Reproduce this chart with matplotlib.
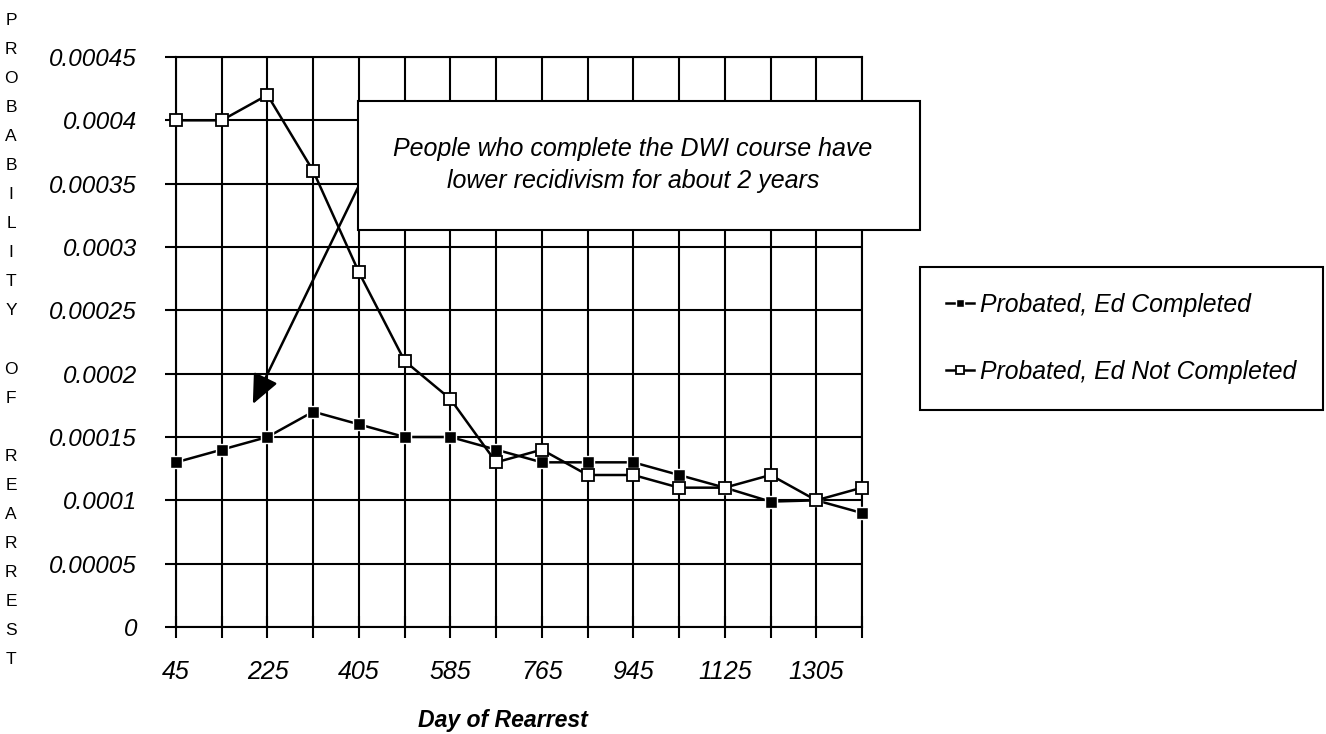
import matplotlib
matplotlib.use("Agg")
import matplotlib.pyplot as plt
from matplotlib.patches import Rectangle

plt.rcParams['font.family'] = ['Liberation Sans', 'DejaVu Sans']

days = [45, 135, 225, 315, 405, 495, 585, 675, 765, 855, 945, 1035, 1125, 1215, 1305, 1395]
ed_completed = [0.00013, 0.00014, 0.00015, 0.00017, 0.00016, 0.00015, 0.00015, 0.00014,
                0.00013, 0.00013, 0.00013, 0.00012, 0.00011, 0.000099, 0.0001, 0.00009]
ed_not_completed = [0.0004, 0.0004, 0.00042, 0.00036, 0.00028, 0.00021, 0.00018, 0.00013,
                    0.00014, 0.00012, 0.00012, 0.00011, 0.00011, 0.00012, 0.0001, 0.00011]
y_ticks = [0, 0.00005, 0.0001, 0.00015, 0.0002, 0.00025, 0.0003, 0.00035, 0.0004, 0.00045]
y_tick_labels = ['0', '0.00005', '0.0001', '0.00015', '0.0002', '0.00025', '0.0003',
                 '0.00035', '0.0004', '0.00045']
note = "People who complete the DWI course have\nlower recidivism for about 2 years"

W, H = 1326, 734
fig = plt.figure(figsize=(W / 100, H / 100), dpi=100)
ax = fig.add_axes([176 / W, 1 - 627 / H, (862 - 176) / W, (627 - 57) / H])

x = list(range(len(days)))
ax.plot(x, ed_completed, color='black', lw=1.8, marker='s', markersize=8,
        markerfacecolor='black', markeredgecolor='white', markeredgewidth=1.0,
        label='Probated, Ed Completed', zorder=3, clip_on=False)
ax.plot(x, ed_not_completed, color='black', lw=1.8, marker='s', markersize=8,
        markerfacecolor='white', markeredgecolor='black', markeredgewidth=1.3,
        label='Probated, Ed Not Completed', zorder=3, clip_on=False)

ax.set_xlim(0, len(days) - 1)
ax.set_ylim(0, 0.00045)
ax.set_xticks(x)
ax.set_xticklabels([str(d) if i % 2 == 0 else '' for i, d in enumerate(days)],
                   fontsize=18, style='italic')
ax.set_yticks(y_ticks)
ax.set_yticklabels(y_tick_labels, fontsize=17.5, style='italic')
ax.tick_params(axis='y', direction='out', length=8, width=1.5, pad=20)
ax.tick_params(axis='x', direction='inout', length=16, width=1.5, pad=15.5)
ax.grid(True, color='black', lw=1.5)
for s in ax.spines.values():
    s.set_color('black')
    s.set_linewidth(1.5)

# annotation box with arrow
box = Rectangle((358 / W, 1 - 230 / H), (920 - 358) / W, 129 / H, transform=fig.transFigure,
                facecolor='white', edgecolor='black', lw=1.5, zorder=5, clip_on=False)
ax.add_patch(box)
fig.text(633 / W, 1 - 165 / H, note, ha='center', va='center', fontsize=18,
         style='italic', linespacing=1.42, zorder=6)
ax.annotate('', xy=(1.68, 0.000176), xytext=(3.98, 0.000347),
            arrowprops=dict(arrowstyle='-|>,head_length=1.8,head_width=0.8',
                            color='black', lw=1.8, shrinkA=0, shrinkB=0), zorder=4)

leg = fig.legend(loc='center', bbox_to_anchor=(1121.5 / W, 1 - 338.5 / H),
                 prop={'style': 'italic', 'size': 17.8}, handlelength=1.1,
                 handletextpad=0.28, labelspacing=1.75, borderpad=1.05,
                 fancybox=False, edgecolor='black', framealpha=1, markerscale=0.65)
leg.get_frame().set_linewidth(1.5)

fig.text(11 / W, 1 - 340 / H,
         "P\nR\nO\nB\nA\nB\nI\nL\nI\nT\nY\n\nO\nF\n\nR\nE\nA\nR\nR\nE\nS\nT",
         ha='center', va='center', fontsize=12.5, linespacing=2.17)
fig.text(503 / W, 1 - 720 / H, "Day of Rearrest", ha='center', va='center',
         fontsize=16.6, fontweight='bold', style='italic')

fig.savefig('out.png', dpi=100)
